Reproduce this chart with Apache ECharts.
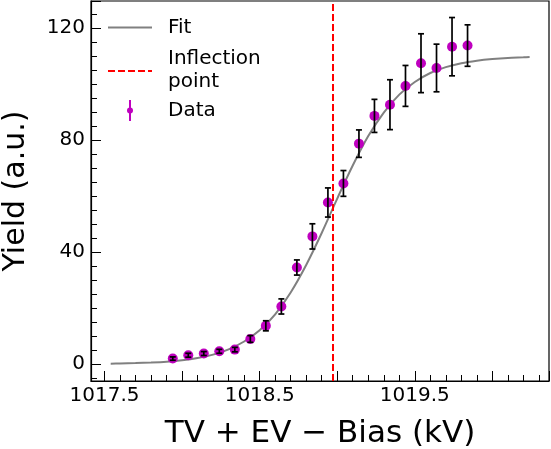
<!DOCTYPE html>
<html>
<head>
<meta charset="utf-8">
<script src="https://cdn.jsdelivr.net/npm/echarts@6/dist/echarts.min.js"></script>
<style>html,body{margin:0;padding:0;background:#fff;overflow:hidden;}#c{width:551px;height:449px;}</style>
</head>
<body>
<div id="c"></div>
<script>
// ---- data ----
const xVals = [1017.94, 1018.04, 1018.14, 1018.24, 1018.34, 1018.44, 1018.54, 1018.64, 1018.74, 1018.84,
               1018.94, 1019.04, 1019.14, 1019.24, 1019.34, 1019.44, 1019.54, 1019.64, 1019.74, 1019.84];
const yVals = [2.0, 3.2, 3.8, 4.6, 5.2, 9.0, 13.7, 20.6, 34.5, 45.6,
               57.7, 64.5, 78.7, 88.6, 92.6, 99.3, 107.4, 105.7, 113.3, 113.7];
const yErr  = [0.6, 0.7, 0.7, 0.7, 0.8, 1.2, 1.8, 2.7, 2.7, 4.5,
               5.2, 4.6, 4.9, 5.9, 8.9, 7.3, 10.5, 8.5, 10.4, 7.4];
const fitX = [1017.54, 1017.6, 1017.7, 1017.8, 1017.9, 1018.0, 1018.1, 1018.2, 1018.3, 1018.4,
              1018.5, 1018.6, 1018.7, 1018.8, 1018.9, 1019.0, 1019.1, 1019.2, 1019.3, 1019.4,
              1019.5, 1019.6, 1019.7, 1019.8, 1019.9, 1020.0, 1020.1, 1020.2, 1020.24];
const fitY = [0.2, 0.25, 0.4, 0.6, 0.9, 1.4, 2.2, 3.4, 5.3, 8.1,
              12.1, 17.8, 25.6, 35.4, 46.8, 59.1, 70.9, 81.4, 89.8, 96.2,
              100.7, 103.9, 106.0, 107.4, 108.3, 108.9, 109.3, 109.5, 109.6];
const inflectionX = 1018.967;
const xTickLabels = ['1017.5', '1018.5', '1019.5'];
const yTickLabels = ['0', '40', '80', '120'];
const xRange = [1017.413, 1020.365];
const yRange = [-6, 129.6];

const FONT = 'DejaVu Sans';
const chart = echarts.init(document.getElementById('c'), null, {renderer: 'canvas'});

const option = {
  animation: false,
  backgroundColor: '#fff',
  grid: {left: 91, right: 2, top: 1, bottom: 68, containLabel: false, outerBoundsMode: 'none',
         show: true, borderColor: '#000', borderWidth: 1.2, backgroundColor: 'transparent'},
  xAxis: {
    type: 'value', min: xRange[0], max: xRange[1],
    minInterval: 0.5, maxInterval: 0.5, splitNumber: 6,
    name: 'TV + EV \u2212 Bias (kV)', nameLocation: 'middle', nameGap: 37,
    nameTextStyle: {fontFamily: FONT, fontSize: 31, color: '#000'},
    axisLine: {show: true, onZero: false, lineStyle: {color: '#000', width: 1.2}},
    axisTick: {show: true, inside: true, length: 10, lineStyle: {color: '#000', width: 1}},
    minorTick: {show: true, splitNumber: 5, length: 6, lineStyle: {color: '#000', width: 1}},
    splitLine: {show: false}, minorSplitLine: {show: false},
    axisLabel: {
      margin: 5, fontFamily: FONT, fontSize: 20, color: '#000',
      showMinLabel: false, showMaxLabel: false,
      formatter: function (v) {
        const s = v.toFixed(1);
        return (xTickLabels.indexOf(s) >= 0 && Math.abs(v - parseFloat(s)) < 1e-6) ? s : '';
      }
    }
  },
  yAxis: {
    type: 'value', min: yRange[0], max: yRange[1],
    minInterval: 40, maxInterval: 40,
    name: 'Yield (a.u.)', nameLocation: 'middle', nameGap: 60,
    nameTextStyle: {fontFamily: FONT, fontSize: 30, color: '#000'},
    axisLine: {show: true, onZero: false, lineStyle: {color: '#000', width: 1.2}},
    axisTick: {show: true, inside: true, length: 10, lineStyle: {color: '#000', width: 1}},
    minorTick: {show: true, splitNumber: 8, length: 6, lineStyle: {color: '#000', width: 1}},
    splitLine: {show: false}, minorSplitLine: {show: false},
    axisLabel: {
      margin: 6, fontFamily: FONT, fontSize: 20, color: '#000',
      showMinLabel: false, showMaxLabel: false,
      formatter: function (v) {
        const s = String(Math.round(v));
        return (yTickLabels.indexOf(s) >= 0 && Math.abs(v - Math.round(v)) < 1e-6) ? s : '';
      }
    }
  },
  series: [
    {
      name: 'Fit', type: 'line', smooth: 0.3, showSymbol: false, symbol: 'none', z: 2,
      data: fitX.map((x, i) => [x, fitY[i]]),
      lineStyle: {color: '#808080', width: 2},
      markLine: {
        silent: true, symbol: 'none', animation: false,
        label: {show: false},
        lineStyle: {color: '#ff0000', type: [7, 3], width: 2},
        data: [{xAxis: inflectionX}]
      }
    },
    {
      name: 'Data', type: 'scatter', symbol: 'circle', symbolSize: 10, z: 3,
      data: xVals.map((x, i) => [x, yVals[i]]),
      itemStyle: {color: '#bf00bf', opacity: 1}
    },
    {
      name: 'Errors', type: 'custom', z: 4,
      data: xVals.map((x, i) => [x, yVals[i], yErr[i]]),
      renderItem: function (params, api) {
        const x = api.value(0), y = api.value(1), e = api.value(2);
        const t = api.coord([x, y + e]);
        const b = api.coord([x, y - e]);
        const c = 3;
        const st = {stroke: '#000', lineWidth: 1.7};
        return {
          type: 'group',
          children: [
            {type: 'line', shape: {x1: t[0], y1: t[1], x2: b[0], y2: b[1]}, style: st},
            {type: 'line', shape: {x1: t[0] - c, y1: t[1], x2: t[0] + c, y2: t[1]}, style: st},
            {type: 'line', shape: {x1: b[0] - c, y1: b[1], x2: b[0] + c, y2: b[1]}, style: st}
          ]
        };
      }
    }
  ],
  graphic: [
    {type: 'line', z: 10, shape: {x1: 108, y1: 27.5, x2: 152, y2: 27.5}, style: {stroke: '#808080', lineWidth: 2}},
    {type: 'text', z: 10, style: {text: 'Fit', x: 168, y: 27.5, verticalAlign: 'middle', font: '20px "DejaVu Sans"', fill: '#000'}},
    {type: 'line', z: 10, shape: {x1: 108, y1: 71, x2: 152, y2: 71}, style: {stroke: '#ff0000', lineWidth: 2, lineDash: [7, 3]}},
    {type: 'text', z: 10, style: {text: 'Inflection\npoint', x: 168, y: 70, verticalAlign: 'middle', lineHeight: 23, font: '20px "DejaVu Sans"', fill: '#000'}},
    {type: 'line', z: 10, shape: {x1: 130, y1: 100, x2: 130, y2: 121}, style: {stroke: '#bf00bf', lineWidth: 2}},
    {type: 'circle', z: 10, shape: {cx: 130, cy: 110.5, r: 3}, style: {fill: '#bf00bf'}},
    {type: 'text', z: 10, style: {text: 'Data', x: 168, y: 111, verticalAlign: 'middle', font: '20px "DejaVu Sans"', fill: '#000'}}
  ]
};
chart.setOption(option);
</script>
</body>
</html>
